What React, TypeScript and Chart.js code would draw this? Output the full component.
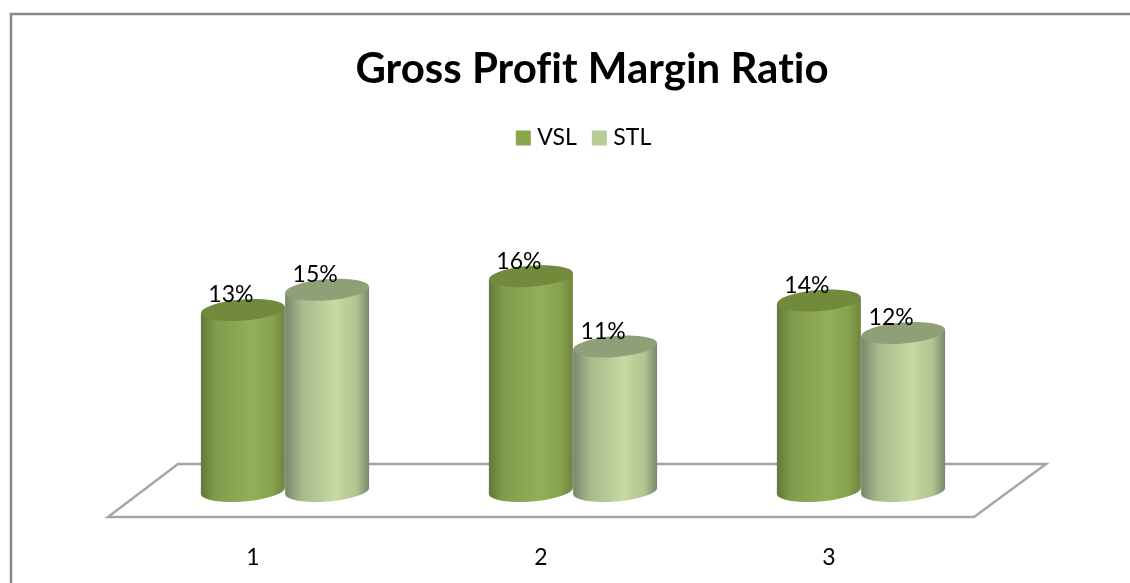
import React, { useEffect, useRef } from "react";
import { Chart, registerables } from "chart.js";

Chart.register(...registerables);

const categories = ["1", "2", "3"];
const vslValues = [13.4, 15.9, 14.1];
const stlValues = [14.9, 10.7, 11.7];
const chartTitle = "Gross Profit Margin Ratio";
const FONT = "Lato, Carlito, sans-serif";

const vslLegend = "#8aa64b";
const stlLegend = "#b8cd93";
const vslBody: [number, string][] = [[0, "#617837"], [0.16, "#7f9a49"], [0.6, "#93af5a"], [0.85, "#87a24f"], [1, "#6c843c"]];
const stlBody: [number, string][] = [[0, "#76856a"], [0.2, "#a9b98e"], [0.6, "#c7da9f"], [0.85, "#b3c391"], [1, "#77876a"]];
const vslCap = "#728a3c";
const stlCap = "#8f9f78";

const cylinders = {
  id: "cylinders",
  beforeDraw(chart: any) {
    chart.ctx.textRendering = "optimizeSpeed";
  },
  beforeDatasetsDraw(chart: any) {
    const { ctx, chartArea: a } = chart;
    ctx.save();
    // frame
    ctx.strokeStyle = "#8a8a8a";
    ctx.lineWidth = 2.5;
    ctx.beginPath();
    ctx.moveTo(11, chart.height);
    ctx.lineTo(11, 14);
    ctx.lineTo(chart.width, 14);
    ctx.stroke();
    // floor
    const b = a.bottom;
    ctx.strokeStyle = "#a6a6a6";
    ctx.lineWidth = 2.5;
    ctx.beginPath();
    ctx.moveTo(a.left - 33, b + 26);
    ctx.lineTo(a.left + 37, b - 27);
    ctx.lineTo(a.right + 41, b - 27);
    ctx.lineTo(a.right - 31, b + 26);
    ctx.closePath();
    ctx.stroke();
    ctx.restore();
  },
  afterDatasetsDraw(chart: any) {
    const { ctx } = chart;
    const rot = -0.08;
    const n = categories.length;
    for (let i = 0; i < n; i++) {
      [0, 1].forEach((d) => {
        const el = chart.getDatasetMeta(d).data[i];
        const cx = el.x;
        const rx = el.width / 2;
        const ry = 10.5;
        const dx = rx * Math.cos(rot);
        const dy = rx * Math.sin(rot);
        const grad = ctx.createLinearGradient(cx - rx, 0, cx + rx, 0);
        (d === 0 ? vslBody : stlBody).forEach(([p, c]) => grad.addColorStop(p, c));
        ctx.save();
        ctx.fillStyle = grad;
        ctx.beginPath();
        ctx.moveTo(cx - dx, el.y - dy);
        ctx.lineTo(cx - dx, el.base - dy);
        ctx.ellipse(cx, el.base, rx, ry, rot, Math.PI, 0, true);
        ctx.lineTo(cx + dx, el.y + dy);
        ctx.closePath();
        ctx.fill();
        ctx.fillStyle = d === 0 ? vslCap : stlCap;
        ctx.beginPath();
        ctx.ellipse(cx, el.y, rx, ry, rot, 0, Math.PI * 2);
        ctx.fill();
        ctx.restore();
      });
    }
    // value labels
    ctx.save();
    ctx.fillStyle = "#000";
    ctx.font = `23px ${FONT}`;
    ctx.textAlign = "center";
    ctx.textBaseline = "middle";
    for (let i = 0; i < n; i++) {
      [0, 1].forEach((d) => {
        const el = chart.getDatasetMeta(d).data[i];
        const v = chart.data.datasets[d].data[i];
        ctx.fillText(`${Math.round(v)}%`, el.x - 12, el.y - 15);
      });
    }
    ctx.restore();
  },
  afterLayout(chart: any) {
    // title and legend sit right of the chart's centre, as in the source
    chart.titleBlock.left += 19;
    chart.titleBlock.right += 19;
    chart.legend.left += 13;
    chart.legend.right += 13;
  },
};

export default function App() {
  const ref = useRef<HTMLCanvasElement>(null);
  useEffect(() => {
    const chart = new Chart(ref.current!, {
      type: "bar",
      data: {
        labels: categories,
        datasets: [
          { label: "VSL", data: vslValues, backgroundColor: "rgba(0,0,0,0)", barPercentage: 1, categoryPercentage: 0.585 },
          { label: "STL", data: stlValues, backgroundColor: "rgba(0,0,0,0)", barPercentage: 1, categoryPercentage: 0.585 },
        ],
      },
      options: {
        responsive: false,
        animation: false,
        layout: { padding: { left: 141, right: 125, top: 0, bottom: 12 } },
        plugins: {
          title: {
            display: true,
            text: chartTitle,
            color: "#000",
            font: { family: FONT, size: 42, weight: "bold" },
            padding: { top: 44, bottom: 12 },
          },
          legend: {
            display: true,
            position: "top",
            labels: {
              boxWidth: 5,
              boxHeight: 5,
              color: "#000",
              font: { family: FONT, size: 23 },
              padding: 20,
              generateLabels(c: any) {
                return c.data.datasets.map((ds: any, i: number) => {
                  const color = i === 0 ? vslLegend : stlLegend;
                  return { text: ds.label, fillStyle: color, strokeStyle: color, lineWidth: 10, datasetIndex: i, hidden: false, fontColor: "#000" };
                });
              },
            },
          },
          tooltip: { enabled: false },
        },
        scales: {
          x: {
            grid: { display: false, drawTicks: false },
            border: { display: false },
            ticks: { color: "#000", font: { family: FONT, size: 23 }, padding: 53, labelOffset: -32 },
            afterFit(scale: any) {
              scale.height = 80;
            },
          },
          y: { display: false, min: 0, max: 24.55 },
        },
      },
      plugins: [cylinders],
    } as any);
    return () => chart.destroy();
  }, []);
  return (
    <div style={{ position: "fixed", left: 0, top: 0, width: 1130, height: 583, background: "#fff", overflow: "hidden" }}>
      <canvas ref={ref} width={1130} height={583} style={{ display: "block" }} />
    </div>
  );
}
